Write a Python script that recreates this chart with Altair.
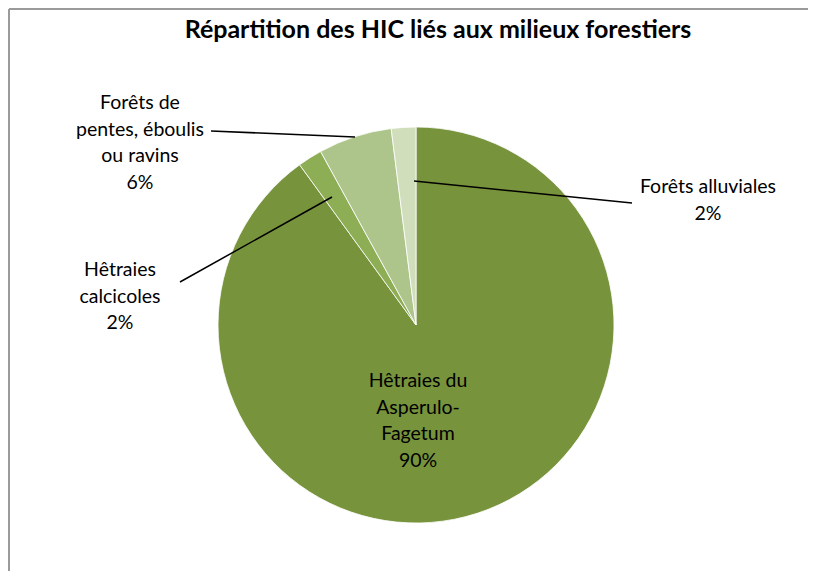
import altair as alt
import pandas as pd

title_text = "Répartition des HIC liés aux milieux forestiers"
categories = [
    "Hêtraies du Asperulo-Fagetum",
    "Hêtraies calcicoles",
    "Forêts de pentes, éboulis ou ravins",
    "Forêts alluviales",
]
label_lines = [
    "Hêtraies du\nAsperulo-\nFagetum",
    "Hêtraies\ncalcicoles",
    "Forêts de\npentes, éboulis\nou ravins",
    "Forêts alluviales",
]
percent = [90, 2, 6, 2]
colors = ["#77933C", "#8EAE55", "#ADC58A", "#D1DEBB"]

df = pd.DataFrame({
    "cat": categories,
    "label": label_lines,
    "pct": percent,
    "idx": list(range(len(categories))),
})
df["text"] = df["label"] + "\n" + df["pct"].astype(str) + "%"

W, H = 800, 563
CX, CY, R = 408, 317, 198
FONT = "Lato"

pie = alt.Chart(df).mark_arc(outerRadius=R, stroke="white", strokeWidth=0.8).encode(
    theta=alt.Theta("pct:Q", stack=True),
    order=alt.Order("idx:Q"),
    color=alt.Color("cat:N", scale=alt.Scale(domain=categories, range=colors), legend=None),
    x=alt.value(CX),
    y=alt.value(CY),
)

# x centre and y of the first text line (chart coordinates)
label_layout = {
    categories[0]: (410, 373),
    categories[1]: (112, 262),
    categories[2]: (132, 95),
    categories[3]: (700, 179),
}

def label_layer(cat):
    x, y = label_layout[cat]
    return alt.Chart(df).transform_filter(alt.datum.cat == cat).mark_text(
        font=FONT, fontSize=19.5, lineBreak="\n", lineHeight=26.5,
        align="center", baseline="middle", color="black",
    ).encode(text="text:N", x=alt.value(x), y=alt.value(y))

leaders = [
    ((203, 123), (347, 129)),
    ((172, 274), (324, 189)),
    ((406, 173), (624, 195)),
]

one = pd.DataFrame({"a": [0]})

def rule(p1, p2, color="black", width=1.5):
    return alt.Chart(one).mark_rule(color=color, strokeWidth=width).encode(
        x=alt.value(p1[0]), y=alt.value(p1[1]), x2=alt.value(p2[0]), y2=alt.value(p2[1])
    )

title = alt.Chart(one).mark_text(
    font=FONT, fontSize=25, fontWeight="bold", align="center", baseline="middle", color="black"
).encode(text=alt.value(title_text), x=alt.value(430), y=alt.value(22))

layers = [pie]
layers += [rule(a, b) for a, b in leaders]
layers += [label_layer(c) for c in categories]
layers += [title]
layers += [rule((1, 1), (W, 1), "#9a9a9a", 2), rule((1, 1), (1, H), "#9a9a9a", 2)]

chart = alt.layer(*layers).properties(
    width=W, height=H, padding=0, autosize=alt.AutoSizeParams(type="none"),
    background="white",
).configure_view(strokeWidth=0)

chart.save("out.html", embed_options={"renderer": "svg", "actions": False})
